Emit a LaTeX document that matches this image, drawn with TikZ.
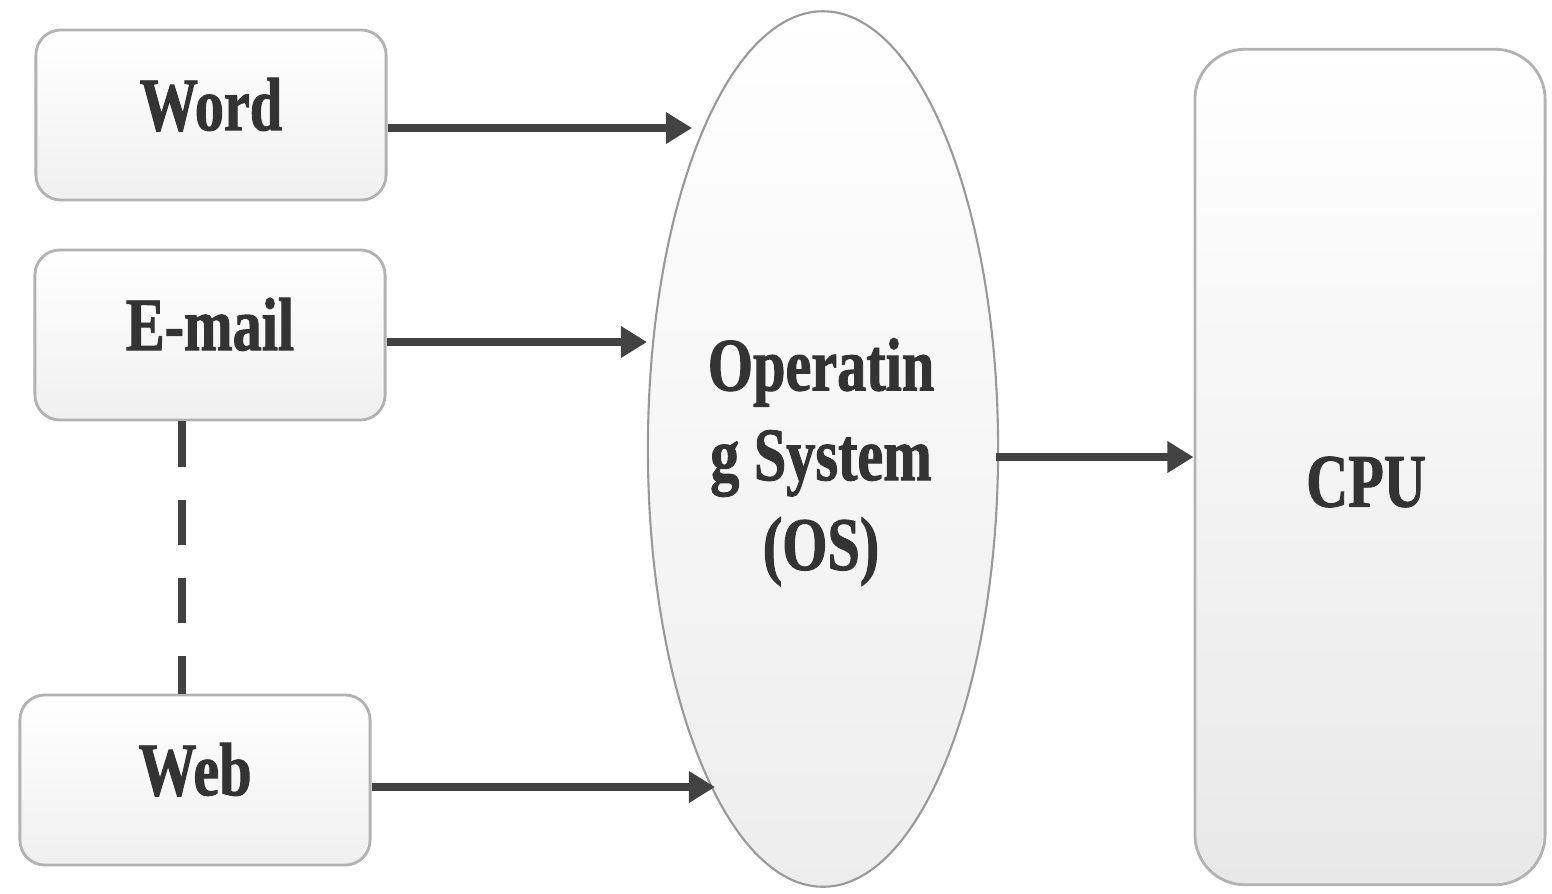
\documentclass[tikz,border=0pt]{standalone}
\usepackage{fontspec}
\setmainfont{Liberation Serif}
\newfontfamily\labelfont[FakeStretch=0.77,FakeBold=1.2]{Liberation Serif}
\usetikzlibrary{shapes.geometric,arrows.meta,calc}

\begin{document}
\begin{tikzpicture}[x=0.01cm,y=-0.01cm,
  lbl/.style={font=\labelfont\bfseries\fontsize{21.5}{25.5}\selectfont, text=black!80},
  appbox/.style={draw=black!30, line width=0.8pt, rounded corners=0.25cm,
    minimum width=3.5cm, minimum height=1.7cm, top color=white, bottom color=black!6,
    lbl, text depth=0.22cm},
  osnode/.style={ellipse, draw=black!40, line width=0.6pt, inner sep=0pt,
    minimum width=3.5cm, minimum height=8.75cm, top color=white, bottom color=black!7},
  cpubox/.style={draw=black!30, line width=0.8pt, rounded corners=0.5cm,
    minimum width=3.5cm, minimum height=8.35cm, top color=white, bottom color=black!9},
  arr/.style={draw=black!74, line width=0.085cm, -{Triangle[length=0.26cm,width=0.3cm]}},
  link/.style={draw=black!74, line width=0.085cm, dash pattern=on 0.45cm off 0.33cm}
]
\useasboundingbox (0,0) rectangle (1552,893);

% application boxes
\node[appbox] (Word)  at (211,115) {Word};
\node[appbox] (Email) at (210,335) {E-mail};
\node[appbox] (Web)   at (195,780) {Web};

% operating system and processor
\node[osnode] (OS)  at (823,449) {};
\node[lbl, align=center] (OStext) at (821,462) {Operatin\\g System\\(OS)};
\node[cpubox] (CPU) at (1370,467) {};
\node[lbl] (CPUtext) at (1366,482) {CPU};

% arrow tips resting on the ellipse border
\coordinate (t1) at (692,128);
\coordinate (t2) at (647,342);
\coordinate (t3) at (715,787);

\draw[arr] (Word.east  |- t1) -- (t1);
\draw[arr] (Email.east |- t2) -- (t2);
\draw[arr] (Web.east   |- t3) -- (t3);

\draw[arr] ($(OS.east)+(-3,8)$) coordinate (c1) -- (c1 -| CPU.west);

% dashed link between E-mail and Web
\draw[link] ($(Email.south)+(-28,0)$) coordinate (d1) -- (d1 |- Web.north);
\end{tikzpicture}
\end{document}
